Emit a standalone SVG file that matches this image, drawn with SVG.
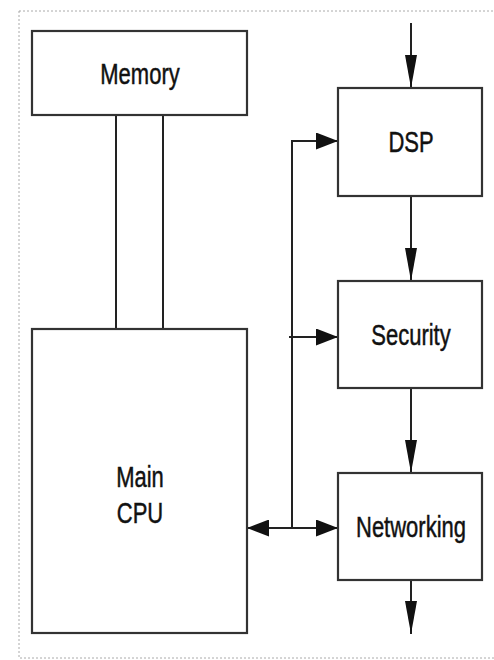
<svg xmlns="http://www.w3.org/2000/svg" width="494" height="660" viewBox="0 0 494 660">
<style>
.box{fill:#fff;stroke:#333;stroke-width:2.2}
.lbl{font-family:"Liberation Sans",Arial,sans-serif;font-size:22px;fill:#111;stroke:#111;stroke-width:0.35;text-anchor:middle}
.ln{fill:none;stroke:#222;stroke-width:2}
</style>
<defs>
<marker id="ah" markerUnits="userSpaceOnUse" markerWidth="22" markerHeight="17" refX="22" refY="8.5" orient="auto-start-reverse"><path d="M0,0 L22,8.5 L0,17 z" fill="#111"/></marker>
<marker id="av" markerUnits="userSpaceOnUse" markerWidth="33" markerHeight="12" refX="33" refY="6" orient="auto"><path d="M0,0 L33,6 L0,12 z" fill="#111"/></marker>
</defs>
<rect width="494" height="660" fill="#fff"/>
<rect x="19" y="11" width="490" height="647" fill="none" stroke="#aaa" stroke-width="1" stroke-dasharray="2,2"/>
<g id="connectors">
<line class="ln" x1="116" y1="115" x2="116" y2="329"/>
<line class="ln" x1="163" y1="115" x2="163" y2="329"/>
<line class="ln" x1="411" y1="23" x2="411" y2="88" marker-end="url(#av)"/>
<line class="ln" x1="411" y1="196" x2="411" y2="281" marker-end="url(#av)"/>
<line class="ln" x1="411" y1="388" x2="411" y2="473" marker-end="url(#av)"/>
<line class="ln" x1="411" y1="580" x2="411" y2="634" marker-end="url(#av)"/>
<line class="ln" x1="292" y1="140" x2="292" y2="528"/>
<line class="ln" x1="291" y1="141" x2="338" y2="141" marker-end="url(#ah)"/>
<line class="ln" x1="289" y1="337" x2="338" y2="337" marker-end="url(#ah)"/>
<line class="ln" x1="247" y1="528" x2="338" y2="528" marker-start="url(#ah)" marker-end="url(#ah)"/>
</g>
<g id="memory">
<rect class="box" x="32" y="31" width="215" height="84"/>
<text class="lbl" transform="translate(140,84) scale(1,1.35)">Memory</text>
</g>
<g id="cpu">
<rect class="box" x="32" y="329" width="215" height="304"/>
<text class="lbl" transform="translate(140,487) scale(1,1.35)">Main</text>
<text class="lbl" transform="translate(140,523) scale(1,1.35)">CPU</text>
</g>
<g id="dsp">
<rect class="box" x="338" y="88" width="144" height="108"/>
<text class="lbl" transform="translate(411,152) scale(1,1.35)">DSP</text>
</g>
<g id="security">
<rect class="box" x="338" y="281" width="144" height="107"/>
<text class="lbl" transform="translate(411,345) scale(1,1.35)">Security</text>
</g>
<g id="networking">
<rect class="box" x="338" y="473" width="144" height="107"/>
<text class="lbl" transform="translate(411,537) scale(1,1.35)">Networking</text>
</g>
</svg>
